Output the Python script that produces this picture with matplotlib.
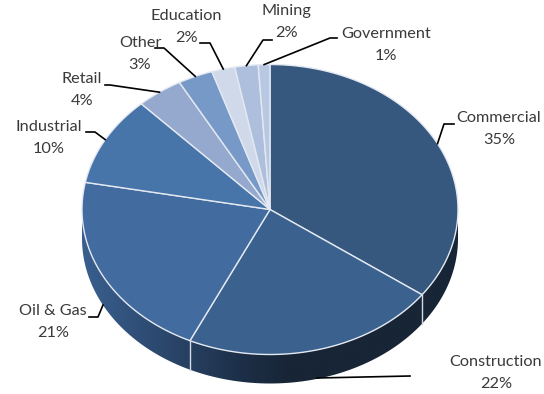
import numpy as np
import matplotlib
matplotlib.use('Agg')
import matplotlib.pyplot as plt
from matplotlib.colors import LinearSegmentedColormap
from matplotlib.patches import Polygon

sectors = ['Commercial', 'Construction', 'Oil & Gas', 'Industrial', 'Retail', 'Other', 'Education', 'Mining', 'Government']
shares = [35, 22, 21, 10, 4, 3, 2, 2, 1]
colors = ['#36587f', '#3b628f', '#426ba0', '#4775a9', '#95a9cf', '#7699c8', '#cfd9ea', '#aebfdd', '#b9c8e2']

# label centre (x, y of the first line) and leader line elbow points, in pixels
label_pos = [(499, 118), (496, 362), (53, 311), (49, 127), (82, 79), (140, 43), (186, 16), (286, 11), (386, 34)]
leaders = [
    [(444, 124), (454, 124)],
    [(410, 376)],
    [(98, 317), (89, 317)],
    [(95, 132), (86, 132)],
    [(110, 85), (105, 85)],
    [(164, 48), (155, 48)],
    [(210, 43), (200, 43)],
    [(263, 40), (272, 40)],
    [(330, 38), (337, 38)],
]
# these two leaders start on the wall, the rest on the top rim
wall_starts = {'Construction': (317, 378), 'Oil & Gas': (103, 305)}

cx, cy, rx, ry = 270, 209.5, 188, 145
depth = 29

plt.rcParams['font.family'] = ['Lato', 'DejaVu Sans']


def rim(deg):
    # clockwise from twelve o'clock
    a = np.radians(deg)
    return cx + rx * np.sin(a), cy - ry * np.cos(a)


fig = plt.figure(figsize=(5.44, 3.94), dpi=100)
ax = fig.add_axes([0, 0, 1, 1])
ax.set_xlim(0, 544)
ax.set_ylim(394, 0)
ax.axis('off')

edges = np.cumsum([0] + shares) * 3.6

# side wall, shaded left to right
t = np.radians(np.linspace(90, 270, 200))
xs = cx + rx * np.sin(t)
ys = cy - ry * np.cos(t)
wall = np.column_stack([np.r_[xs, xs[::-1]], np.r_[ys, ys[::-1] + depth]])
clip = Polygon(wall, closed=True, transform=ax.transData, fc='none', ec='none')
ax.add_patch(clip)
wall_cmap = LinearSegmentedColormap.from_list('wall', [(0, '#3a5f8e'), (0.14, '#30507a'), (0.29, '#263f5f'), (0.42, '#1d2f48'), (0.55, '#172536'), (1, '#172536')])
img = ax.imshow(np.linspace(0, 1, 256).reshape(1, -1), cmap=wall_cmap, extent=[82, 458, 394, 0], aspect='auto', zorder=1)
img.set_clip_path(clip)
ax.set_xlim(0, 544)
ax.set_ylim(394, 0)

# top of the pie
for i, c in enumerate(colors):
    a = np.linspace(edges[i], edges[i + 1], 120)
    px, py = rim(a)
    ax.fill(np.r_[cx, px], np.r_[cy, py], fc=c, ec='#e4e9f1', lw=1.0, zorder=2, joinstyle='round')

# seams on the wall
for d in [edges[1], edges[2]]:
    x0, y0 = rim(d)
    ax.plot([x0, x0], [y0, y0 + depth], color='#d5dbe4', lw=1.0, zorder=3)

# labels and leader lines
for i, name in enumerate(sectors):
    lx, ly = label_pos[i]
    ax.text(lx, ly, name, ha='center', va='center', fontsize=11.7, color='#3a3a3a', zorder=5)
    ax.text(lx, ly + 22, f'{shares[i]}%', ha='center', va='center', fontsize=11.7, color='#3a3a3a', zorder=5)
    start = wall_starts.get(name, rim((edges[i] + edges[i + 1]) / 2))
    pts = [start] + leaders[i]
    ax.plot([p[0] for p in pts], [p[1] for p in pts], color='black', lw=1.2, zorder=4)

fig.savefig('out.png', dpi=100)
